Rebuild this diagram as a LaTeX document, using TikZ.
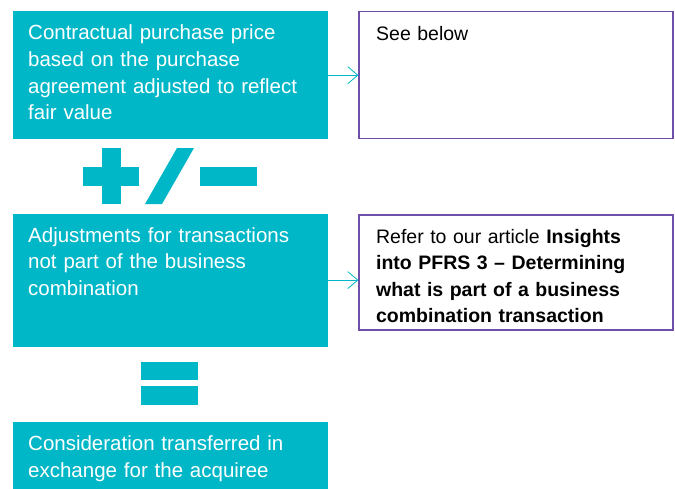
\documentclass[tikz,border=0pt]{standalone}
\usepackage{fontspec}
\setmainfont{Liberation Sans}
\usepackage{tikz}
\usetikzlibrary{positioning,arrows.meta}

\definecolor{kteal}{RGB}{0,183,200}
\definecolor{kpurple}{RGB}{110,80,168}

\tikzset{
    tealbox/.style={fill=kteal, text=white, text width=285pt, align=left,
        inner xsep=15pt, inner ysep=13.5pt, minimum width=315pt, text height=15pt,
        font=\fontsize{20.5}{26.7}\selectfont},
    notebox/.style={draw=kpurple, line width=1.5pt, text=black, text width=280pt, align=left,
        inner xsep=17pt, inner ysep=13.5pt, minimum width=313pt, text height=15pt,
        font=\fontsize{19.5}{26.3}\selectfont},
    linkarrow/.style={draw=kteal, line width=0.8pt, -{Straight Barb[length=10pt,width=17pt]}},
    sign/.style={fill=kteal}
}

\begin{document}
\begin{tikzpicture}
    \useasboundingbox (0,0) rectangle (675pt,-488pt);

    % left column
    \node[tealbox, anchor=north west, text depth=86pt] (price) at (13pt,-11pt)
        {Contractual purchase price\\ based on the purchase\\ agreement adjusted to reflect\\ fair value};
    \node[tealbox, below=74pt of price, text depth=91pt] (adjust)
        {Adjustments for transactions\\ not part of the business\\ combination};
    \node[tealbox, below=75pt of adjust, text depth=27pt] (consid)
        {Consideration transferred in\\ exchange for the acquiree};

    % right column
    \node[notebox, right=30pt of price, text depth=85pt] (see) {See below};
    \node[notebox, right=30pt of adjust.north east, anchor=north west, yshift=-1pt, text depth=73pt] (refer)
        {Refer to our article \textbf{Insights}\\ \textbf{into PFRS 3 -- Determining}\\ \textbf{what is part of a business}\\ \textbf{combination transaction}};

    \draw[linkarrow] (price.east) -- (see.west);
    \draw[linkarrow] (adjust.east) -- (adjust.east -| refer.west);

    % the +/- and = signs
    \begin{scope}[x=1pt, y=-1pt]
        \fill[sign] (83,167) rectangle (139,186);
        \fill[sign] (102,148) rectangle (121,204);
        \fill[sign] (177,148) -- (194,148) -- (162,204) -- (145,204) -- cycle;
        \fill[sign] (200,167) rectangle (257,186);
        \fill[sign] (141,362) rectangle (198,380);
        \fill[sign] (141,386) rectangle (198,405);
    \end{scope}
\end{tikzpicture}
\end{document}
